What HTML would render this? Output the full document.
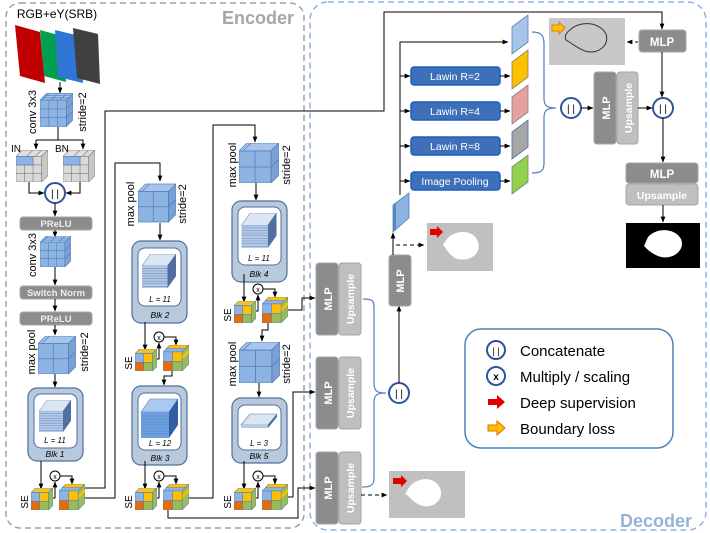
<!DOCTYPE html>
<html><head><meta charset="utf-8"><style>
html,body{margin:0;padding:0;background:#fff;}
svg{display:block;font-family:"Liberation Sans",sans-serif;}
</style></head><body>
<svg width="710" height="533" viewBox="0 0 710 533" xmlns="http://www.w3.org/2000/svg">
<defs>
<marker id="ar" viewBox="0 0 10 10" refX="9" refY="5" markerWidth="6" markerHeight="6" orient="auto"><path d="M0,1 L10,5 L0,9z" fill="#000"/></marker>
<symbol id="c3" viewBox="0 0 40 40">
<polygon points="0,8 8,0 40,0 32,8" fill="#a9c4eb" stroke="#4f81bd" stroke-width="0.8"/>
<polygon points="32,8 40,0 40,32 32,40" fill="#7aa0d4" stroke="#4f81bd" stroke-width="0.8"/>
<rect x="0" y="8" width="32" height="32" fill="#8db3e2" stroke="#4f81bd" stroke-width="0.8"/>
<path d="M10.7,8V40M21.3,8V40M0,18.7H32M0,29.3H32M2.7,8L10.7,0M13.3,8L21.3,0M24,8L32,0M32,18.7L40,10.7M32,29.3L40,21.3M2.7,5.3H34.7M5.3,2.7H37.3" stroke="#4f81bd" stroke-width="0.8" fill="none"/>
</symbol>
<symbol id="cg" viewBox="0 0 40 40">
<polygon points="0,8 8,0 40,0 32,8" fill="#e0e0e0" stroke="#7f7f7f" stroke-width="0.8"/>
<polygon points="32,8 40,0 40,32 32,40" fill="#c8c8c8" stroke="#7f7f7f" stroke-width="0.8"/>
<rect x="0" y="8" width="32" height="32" fill="#d9d9d9" stroke="#7f7f7f" stroke-width="0.8"/>
<path d="M10.7,8V40M21.3,8V40M0,18.7H32M0,29.3H32M13.3,8L21.3,0M24,8L32,0" stroke="#7f7f7f" stroke-width="0.8" fill="none"/>
<rect x="0" y="8" width="21.3" height="10.7" fill="#8db3e2" stroke="#4f81bd" stroke-width="0.8"/>
</symbol>
<symbol id="c2" viewBox="0 0 40 40">
<polygon points="0,8 8,0 40,0 32,8" fill="#a9c4eb" stroke="#4f81bd" stroke-width="0.8"/>
<polygon points="32,8 40,0 40,32 32,40" fill="#7aa0d4" stroke="#4f81bd" stroke-width="0.8"/>
<rect x="0" y="8" width="32" height="32" fill="#8db3e2" stroke="#4f81bd" stroke-width="0.8"/>
<path d="M16,8V40M0,24H32M4,8L12,0M32,24L40,16" stroke="#4f81bd" stroke-width="0.8" fill="none"/>
</symbol>
<symbol id="se" viewBox="0 0 24 24">
<polygon points="0,5 5,0 24,0 19,5" fill="#f3c12b" stroke="#4f81bd" stroke-width="0.6"/>
<polygon points="19,5 24,0 24,19 19,24" fill="#9bbb59" stroke="#4f81bd" stroke-width="0.6"/>
<rect x="0" y="5" width="9.5" height="9.5" fill="#8db3e2" stroke="#4f81bd" stroke-width="0.6"/>
<rect x="9.5" y="5" width="9.5" height="9.5" fill="#ffc000" stroke="#4f81bd" stroke-width="0.6"/>
<rect x="0" y="14.5" width="9.5" height="9.5" fill="#e46c0a" stroke="#4f81bd" stroke-width="0.6"/>
<rect x="9.5" y="14.5" width="9.5" height="9.5" fill="#9bbb59" stroke="#4f81bd" stroke-width="0.6"/>
</symbol>
<symbol id="seb" viewBox="0 0 30 30">
<polygon points="0,8 8,0 30,0 22,8" fill="#8db3e2" stroke="#4f81bd" stroke-width="0.6"/>
<polygon points="4,4 8,0 30,0 26,4" fill="#ffc000" stroke="#4f81bd" stroke-width="0.6"/>
<polygon points="22,8 30,0 30,22 22,30" fill="#9bbb59" stroke="#4f81bd" stroke-width="0.6"/>
<path d="M22,15 L30,7" stroke="#ffc000" stroke-width="3"/>
<rect x="0" y="8" width="11" height="11" fill="#8db3e2" stroke="#4f81bd" stroke-width="0.6"/>
<rect x="11" y="8" width="11" height="11" fill="#ffc000" stroke="#4f81bd" stroke-width="0.6"/>
<rect x="0" y="19" width="11" height="11" fill="#e46c0a" stroke="#4f81bd" stroke-width="0.6"/>
<rect x="11" y="19" width="11" height="11" fill="#9bbb59" stroke="#4f81bd" stroke-width="0.6"/>
</symbol>
<symbol id="stack" viewBox="0 0 40 40">
<polygon points="0,14 10,0 40,0 30,14" fill="#dce6f2" stroke="#4f81bd" stroke-width="0.6"/>
<polygon points="30,14 40,0 40,26 30,40" fill="#4f6f9f"/>
<rect x="0" y="14" width="30" height="26" fill="#b4c9e6"/>
<path d="M0,17H30M0,20H30M0,23H30M0,26H30M0,29H30M0,32H30M0,35H30M0,38H30" stroke="#6a8cc0" stroke-width="0.7"/>
</symbol>
</defs>

<rect x="6" y="3" width="298" height="525" rx="14" fill="none" stroke="#a0a0a0" stroke-width="1.5" stroke-dasharray="6,4"/>
<rect x="310" y="2" width="396" height="528" rx="18" fill="none" stroke="#8db3e2" stroke-width="1.5" stroke-dasharray="6,4"/>
<text x="294" y="24" font-size="18" font-weight="bold" fill="#a6a6a6" text-anchor="end">Encoder</text>
<text x="692" y="527" font-size="18" font-weight="bold" fill="#95b3d7" text-anchor="end">Decoder</text>

<text x="57" y="18" font-size="12" text-anchor="middle">RGB+eY(SRB)</text>
<polygon points="15,25 40,32 45,83 20,76" fill="#c00000"/>
<polygon points="40,30 62,36 66,82 44,76" fill="#00a050"/>
<polygon points="55,30 80,36 83,83 58,77" fill="#2e75d6"/>
<polygon points="73,28 98,34 100,84 77,78" fill="#404040"/>
<line x1="60" y1="82" x2="60" y2="93" stroke="#000" marker-end="url(#ar)"/>
<use href="#c3" x="40" y="93" width="33" height="34"/>
<text transform="translate(36,112) rotate(-90)" font-size="11" text-anchor="middle">conv 3x3</text>
<text transform="translate(86,112) rotate(-90)" font-size="11" text-anchor="middle">stride=2</text>
<path d="M58,127V140H83V149" fill="none" stroke="#000" marker-end="url(#ar)"/>
<line x1="58" y1="140" x2="36" y2="140" stroke="#000"/>
<line x1="36" y1="140" x2="36" y2="149" stroke="#000" marker-end="url(#ar)"/>
<text x="11" y="152" font-size="10">IN</text>
<text x="55" y="152" font-size="10">BN</text>
<use href="#cg" x="16" y="150" width="32" height="32"/>
<use href="#cg" x="63" y="150" width="32" height="32"/>
<path d="M29,182V193H44" fill="none" stroke="#000" marker-end="url(#ar)"/>
<path d="M80,182V193H66" fill="none" stroke="#000" marker-end="url(#ar)"/>
<circle cx="55" cy="193" r="10" fill="#fff" stroke="#2f5597" stroke-width="2"/>
<text x="55" y="197" font-size="10" text-anchor="middle">| |</text>
<line x1="55" y1="203" x2="55" y2="216" stroke="#000" marker-end="url(#ar)"/>
<rect x="20" y="217" width="72" height="13" rx="3" fill="#8c8c8c" stroke="#a6a6a6"/>
<text x="56" y="227" font-size="9.5" font-weight="bold" fill="#eee" text-anchor="middle">PReLU</text>
<line x1="55" y1="230" x2="55" y2="237" stroke="#000" marker-end="url(#ar)"/>
<use href="#c3" x="40" y="236" width="31" height="31"/>
<text transform="translate(36,255) rotate(-90)" font-size="11" text-anchor="middle">conv 3x3</text>
<line x1="55" y1="267" x2="55" y2="285" stroke="#000" marker-end="url(#ar)"/>
<rect x="20" y="286" width="72" height="13" rx="3" fill="#8c8c8c" stroke="#a6a6a6"/>
<text x="56" y="296" font-size="9.5" font-weight="bold" fill="#eee" text-anchor="middle">Switch Norm</text>
<line x1="55" y1="299" x2="55" y2="311" stroke="#000" marker-end="url(#ar)"/>
<rect x="20" y="312" width="72" height="13" rx="3" fill="#8c8c8c" stroke="#a6a6a6"/>
<text x="56" y="322" font-size="9.5" font-weight="bold" fill="#eee" text-anchor="middle">PReLU</text>
<line x1="55" y1="325" x2="55" y2="335" stroke="#000" marker-end="url(#ar)"/>
<use href="#c2" x="38" y="336" width="38" height="38"/>
<text transform="translate(35,352) rotate(-90)" font-size="11" text-anchor="middle">max pool</text>
<text transform="translate(88,352) rotate(-90)" font-size="11" text-anchor="middle">stride=2</text>
<line x1="55" y1="374" x2="55" y2="387" stroke="#000" marker-end="url(#ar)"/>

<g>
<rect x="28" y="388" width="55" height="73" rx="9" fill="#b8c9db" stroke="#4f6f9f" stroke-width="1.2"/>
<rect x="34" y="394" width="43" height="54" rx="7" fill="#fff" stroke="#4f6f9f"/>
<use href="#stack" x="37" y="400" width="36" height="32"/>
<text x="55" y="443" font-size="8" font-style="italic" text-anchor="middle">L = 11</text>
<text x="55" y="457" font-size="8.5" font-style="italic" text-anchor="middle">Blk 1</text>
</g>
<g>
<rect x="132" y="241" width="55" height="82" rx="9" fill="#b8c9db" stroke="#4f6f9f" stroke-width="1.2"/>
<rect x="138" y="248" width="43" height="58" rx="7" fill="#fff" stroke="#4f6f9f"/>
<use href="#stack" x="141" y="254" width="36" height="34"/>
<text x="160" y="302" font-size="8" font-style="italic" text-anchor="middle">L = 11</text>
<text x="160" y="318" font-size="8.5" font-style="italic" text-anchor="middle">Blk 2</text>
</g>
<g>
<rect x="132" y="386" width="55" height="79" rx="9" fill="#b8c9db" stroke="#4f6f9f" stroke-width="1.2"/>
<rect x="138" y="393" width="43" height="57" rx="7" fill="#fff" stroke="#4f6f9f"/>
<polygon points="141,412 150,399 178,399 169,412" fill="#a9c9f2" stroke="#4f81bd" stroke-width="0.6"/>
<polygon points="169,412 178,399 178,425 169,438" fill="#2f5f9f"/>
<rect x="141" y="412" width="28" height="26" fill="#6fa0e0"/>
<path d="M141,416H169M141,419H169M141,422H169M141,425H169M141,428H169M141,431H169M141,434H169" stroke="#4f81bd" stroke-width="0.6"/>
<text x="160" y="446" font-size="8" font-style="italic" text-anchor="middle">L = 12</text>
<text x="160" y="461" font-size="8.5" font-style="italic" text-anchor="middle">Blk 3</text>
</g>
<g>
<rect x="232" y="201" width="55" height="81" rx="9" fill="#b8c9db" stroke="#4f6f9f" stroke-width="1.2"/>
<rect x="238" y="207" width="43" height="58" rx="7" fill="#fff" stroke="#4f6f9f"/>
<use href="#stack" x="241" y="213" width="36" height="35"/>
<text x="259" y="261" font-size="8" font-style="italic" text-anchor="middle">L = 11</text>
<text x="259" y="277" font-size="8.5" font-style="italic" text-anchor="middle">Blk 4</text>
</g>
<g>
<rect x="232" y="398" width="55" height="65" rx="9" fill="#b8c9db" stroke="#4f6f9f" stroke-width="1.2"/>
<rect x="238" y="405" width="43" height="45" rx="7" fill="#fff" stroke="#4f6f9f"/>
<polygon points="241,425 250,414 277,414 268,425" fill="#dce6f2" stroke="#4f81bd" stroke-width="0.6"/>
<rect x="241" y="425" width="27" height="3" fill="#b4c9e6"/>
<polygon points="268,425 277,414 277,417 268,428" fill="#4f6f9f"/>
<text x="259" y="446" font-size="8" font-style="italic" text-anchor="middle">L = 3</text>
<text x="259" y="459" font-size="8.5" font-style="italic" text-anchor="middle">Blk 5</text>
</g>

<g id="seg">
<line x1="41" y1="461" x2="41" y2="489" stroke="#000" marker-end="url(#ar)"/>
<circle cx="55" cy="476" r="5" fill="#fff" stroke="#000"/>
<text x="55" y="479" font-size="7" text-anchor="middle">x</text>
<path d="M50,498H55V482" fill="none" stroke="#000" marker-end="url(#ar)"/>
<path d="M60,476H72V484" fill="none" stroke="#000" marker-end="url(#ar)"/>
<use href="#se" x="31" y="488" width="22" height="22"/>
<use href="#seb" x="59" y="484" width="26" height="26"/>
<text transform="translate(28,502) rotate(-90)" font-size="10" text-anchor="middle">SE</text>
</g>
<use href="#seg" transform="translate(104,-139)"/>
<use href="#seg" transform="translate(104,0)"/>
<use href="#seg" transform="translate(203,-187)"/>
<use href="#seg" transform="translate(203,0)"/>

<path d="M85,498H115V163H160V181" fill="none" stroke="#000" marker-end="url(#ar)"/>
<use href="#c2" x="138" y="183" width="38" height="40"/>
<text transform="translate(134,204) rotate(-90)" font-size="11" text-anchor="middle">max pool</text>
<text transform="translate(186,204) rotate(-90)" font-size="11" text-anchor="middle">stride=2</text>
<line x1="160" y1="223" x2="160" y2="240" stroke="#000" marker-end="url(#ar)"/>
<path d="M172,371V376H164V385" fill="none" stroke="#000" marker-end="url(#ar)"/>
<path d="M189,498H213V125H255V142" fill="none" stroke="#000" marker-end="url(#ar)"/>
<use href="#c2" x="239" y="143" width="40" height="40"/>
<text transform="translate(236,165) rotate(-90)" font-size="11" text-anchor="middle">max pool</text>
<text transform="translate(290,165) rotate(-90)" font-size="11" text-anchor="middle">stride=2</text>
<line x1="256" y1="183" x2="256" y2="200" stroke="#000" marker-end="url(#ar)"/>
<path d="M268,323V330H262V341" fill="none" stroke="#000" marker-end="url(#ar)"/>
<use href="#c2" x="239" y="342" width="41" height="41"/>
<text transform="translate(236,364) rotate(-90)" font-size="11" text-anchor="middle">max pool</text>
<text transform="translate(290,364) rotate(-90)" font-size="11" text-anchor="middle">stride=2</text>
<line x1="259" y1="383" x2="259" y2="397" stroke="#000" marker-end="url(#ar)"/>

<path d="M85,488H105V111H384V12H662V29" fill="none" stroke="#000" marker-end="url(#ar)"/>
<path d="M288,310H302V298H315" fill="none" stroke="#000" marker-end="url(#ar)"/>
<path d="M288,497H293V392H315" fill="none" stroke="#000" marker-end="url(#ar)"/>
<path d="M168,510V518H298V488H315" fill="none" stroke="#000" marker-end="url(#ar)"/>

<g id="mu">
<rect x="316" y="263" width="22" height="72" rx="3" fill="#8c8c8c" stroke="#a6a6a6"/>
<rect x="339" y="263" width="22" height="72" rx="3" fill="#bfbfbf" stroke="#a6a6a6"/>
<text transform="translate(332,299) rotate(-90)" font-size="11" font-weight="bold" fill="#fff" text-anchor="middle">MLP</text>
<text transform="translate(354,299) rotate(-90)" font-size="10.5" font-weight="bold" fill="#fff" text-anchor="middle">Upsample</text>
</g>
<use href="#mu" transform="translate(0,94)"/>
<use href="#mu" transform="translate(0,189)"/>
<path d="M363,299C374,299 374,301 374,310V383C374,392 378,393 386,393C378,393 374,394 374,403V478C374,486 370,487 362,487" fill="none" stroke="#4f81bd" stroke-width="1.2"/>
<circle cx="399" cy="393" r="10" fill="#fff" stroke="#2f5597" stroke-width="2"/>
<text x="399" y="397" font-size="10" text-anchor="middle">| |</text>
<line x1="361" y1="495" x2="387" y2="495" stroke="#000" stroke-dasharray="4,3" marker-end="url(#ar)"/>
<rect x="389" y="471" width="76" height="47" fill="#c0c0c0"/>
<path d="M410,486C420,476 435,477 440,488C445,500 432,510 420,505C412,502 410,496 405,494Z" fill="#fff"/>
<polygon points="393,478 401,478 401,475 407,481 401,487 401,484 393,484" fill="#e00000"/>

<line x1="399" y1="383" x2="399" y2="306" stroke="#000" marker-end="url(#ar)"/>
<rect x="389" y="255" width="22" height="51" rx="3" fill="#8c8c8c" stroke="#a6a6a6"/>
<text transform="translate(404,281) rotate(-90)" font-size="11" font-weight="bold" fill="#fff" text-anchor="middle">MLP</text>
<line x1="393" y1="255" x2="393" y2="233" stroke="#000" marker-end="url(#ar)"/>
<line x1="396" y1="245" x2="424" y2="245" stroke="#000" stroke-dasharray="4,3" marker-end="url(#ar)"/>
<rect x="427" y="223" width="66" height="48" fill="#c0c0c0"/>
<path d="M446,240C455,228 475,230 478,242C482,256 466,263 455,258C448,254 447,249 443,245Z" fill="#fff"/>
<polygon points="430,229 437,229 437,226 443,232 437,238 437,235 430,235" fill="#e00000"/>
<polygon points="393,205 409,193 409,218 393,232" fill="#8db3e2" stroke="#4f81bd" stroke-width="0.8"/>
<polygon points="393,205 396,203 396,230 393,232" fill="#5a86c4"/>

<path d="M400,195V42H508" fill="none" stroke="#000" marker-end="url(#ar)"/>
<g font-size="10.5" fill="#fff" text-anchor="middle">
<line x1="400" y1="76" x2="410" y2="76" stroke="#000" marker-end="url(#ar)"/>
<rect x="411" y="67" width="89" height="18" rx="3" fill="#3d70b8" stroke="#1f5fbf" stroke-width="1.5"/>
<text x="455" y="80">Lawin R=2</text>
<line x1="400" y1="111" x2="410" y2="111" stroke="#000" marker-end="url(#ar)"/>
<rect x="411" y="102" width="89" height="18" rx="3" fill="#3d70b8" stroke="#1f5fbf" stroke-width="1.5"/>
<text x="455" y="115">Lawin R=4</text>
<line x1="400" y1="146" x2="410" y2="146" stroke="#000" marker-end="url(#ar)"/>
<rect x="411" y="137" width="89" height="18" rx="3" fill="#3d70b8" stroke="#1f5fbf" stroke-width="1.5"/>
<text x="455" y="150">Lawin R=8</text>
<line x1="400" y1="181" x2="410" y2="181" stroke="#000" marker-end="url(#ar)"/>
<rect x="411" y="172" width="89" height="18" rx="3" fill="#3d70b8" stroke="#1f5fbf" stroke-width="1.5"/>
<text x="455" y="185">Image Pooling</text>
</g>
<line x1="500" y1="76" x2="510" y2="76" stroke="#000" marker-end="url(#ar)"/>
<line x1="500" y1="111" x2="510" y2="111" stroke="#000" marker-end="url(#ar)"/>
<line x1="500" y1="146" x2="510" y2="146" stroke="#000" marker-end="url(#ar)"/>
<line x1="500" y1="181" x2="510" y2="181" stroke="#000" marker-end="url(#ar)"/>
<g stroke-width="0.8">
<polygon points="512,27 528,15 528,42 512,54" fill="#a9c4eb" stroke="#4f81bd"/>
<polygon points="512,62 528,50 528,77 512,89" fill="#ffc000" stroke="#7f7f7f"/>
<polygon points="512,97 528,85 528,112 512,124" fill="#e6a0a0" stroke="#7f7f7f"/>
<polygon points="512,132 528,120 528,147 512,159" fill="#a6a6a6" stroke="#4f6f9f"/>
<polygon points="512,167 528,155 528,182 512,194" fill="#92d050" stroke="#7f7f7f"/>
</g>
<path d="M532,32C542,32 544,36 544,44V98C544,105 546,108 556,108C546,108 544,111 544,118V163C544,170 542,173 532,173" fill="none" stroke="#4f81bd" stroke-width="1.2"/>
<circle cx="571" cy="108" r="10" fill="#fff" stroke="#2f5597" stroke-width="2"/>
<text x="571" y="112" font-size="10" text-anchor="middle">| |</text>
<line x1="581" y1="108" x2="593" y2="108" stroke="#000" marker-end="url(#ar)"/>
<rect x="594" y="72" width="22" height="72" rx="3" fill="#8c8c8c" stroke="#a6a6a6"/>
<rect x="617" y="72" width="21" height="72" rx="3" fill="#bfbfbf" stroke="#a6a6a6"/>
<text transform="translate(610,108) rotate(-90)" font-size="11" font-weight="bold" fill="#fff" text-anchor="middle">MLP</text>
<text transform="translate(632,108) rotate(-90)" font-size="10.5" font-weight="bold" fill="#fff" text-anchor="middle">Upsample</text>
<line x1="638" y1="108" x2="652" y2="108" stroke="#000" marker-end="url(#ar)"/>
<circle cx="663" cy="108" r="10" fill="#fff" stroke="#2f5597" stroke-width="2"/>
<text x="663" y="112" font-size="10" text-anchor="middle">| |</text>
<rect x="639" y="30" width="47" height="22" rx="3" fill="#8c8c8c" stroke="#a6a6a6"/>
<text x="662" y="46" font-size="11.5" font-weight="bold" fill="#fff" text-anchor="middle">MLP</text>
<line x1="662" y1="52" x2="662" y2="97" stroke="#000" marker-end="url(#ar)"/>
<line x1="638" y1="42" x2="627" y2="42" stroke="#000" stroke-dasharray="3,3" marker-end="url(#ar)"/>
<rect x="549" y="18" width="76" height="47" fill="#c8c8c8"/>
<path d="M570,30C580,20 600,22 606,34C610,46 597,55 585,51C577,48 573,44 566,40C564,36 566,33 570,30Z" fill="none" stroke="#333" stroke-width="1"/>
<polygon points="552,25 559,25 559,22 565,28 559,34 559,31 552,31" fill="#ffc000" stroke="#e46c0a" stroke-width="0.8"/>
<line x1="663" y1="118" x2="663" y2="162" stroke="#000" marker-end="url(#ar)"/>
<rect x="626" y="163" width="72" height="20" rx="3" fill="#8c8c8c" stroke="#a6a6a6"/>
<text x="662" y="178" font-size="11.5" font-weight="bold" fill="#fff" text-anchor="middle">MLP</text>
<rect x="626" y="184" width="72" height="21" rx="3" fill="#bfbfbf" stroke="#a6a6a6"/>
<text x="662" y="199" font-size="10.5" font-weight="bold" fill="#fff" text-anchor="middle">Upsample</text>
<line x1="663" y1="205" x2="663" y2="222" stroke="#000" marker-end="url(#ar)"/>
<rect x="626" y="223" width="74" height="45" fill="#000"/>
<path d="M648,237C657,227 675,228 681,239C686,252 670,261 658,256C651,253 648,250 644,246Z" fill="#fff"/>

<rect x="465" y="329" width="208" height="119" rx="16" fill="#fff" stroke="#4f81bd" stroke-width="1.5"/>
<circle cx="496" cy="350" r="9" fill="#fff" stroke="#2f5597" stroke-width="2"/>
<text x="496" y="354" font-size="9" text-anchor="middle">| |</text>
<circle cx="496" cy="376" r="9" fill="#fff" stroke="#2f5597" stroke-width="2"/>
<text x="496" y="380" font-size="10" font-weight="bold" text-anchor="middle">x</text>
<polygon points="488,399 497,399 497,395 505,402 497,409 497,405 488,405" fill="#e00000"/>
<polygon points="488,425 497,425 497,421 505,428 497,435 497,431 488,431" fill="#ffc000" stroke="#e46c0a"/>
<g font-size="15" fill="#000">
<text x="520" y="356">Concatenate</text>
<text x="520" y="382">Multiply  / scaling</text>
<text x="520" y="408">Deep supervision</text>
<text x="520" y="434">Boundary loss</text>
</g>
</svg>
</body></html>
